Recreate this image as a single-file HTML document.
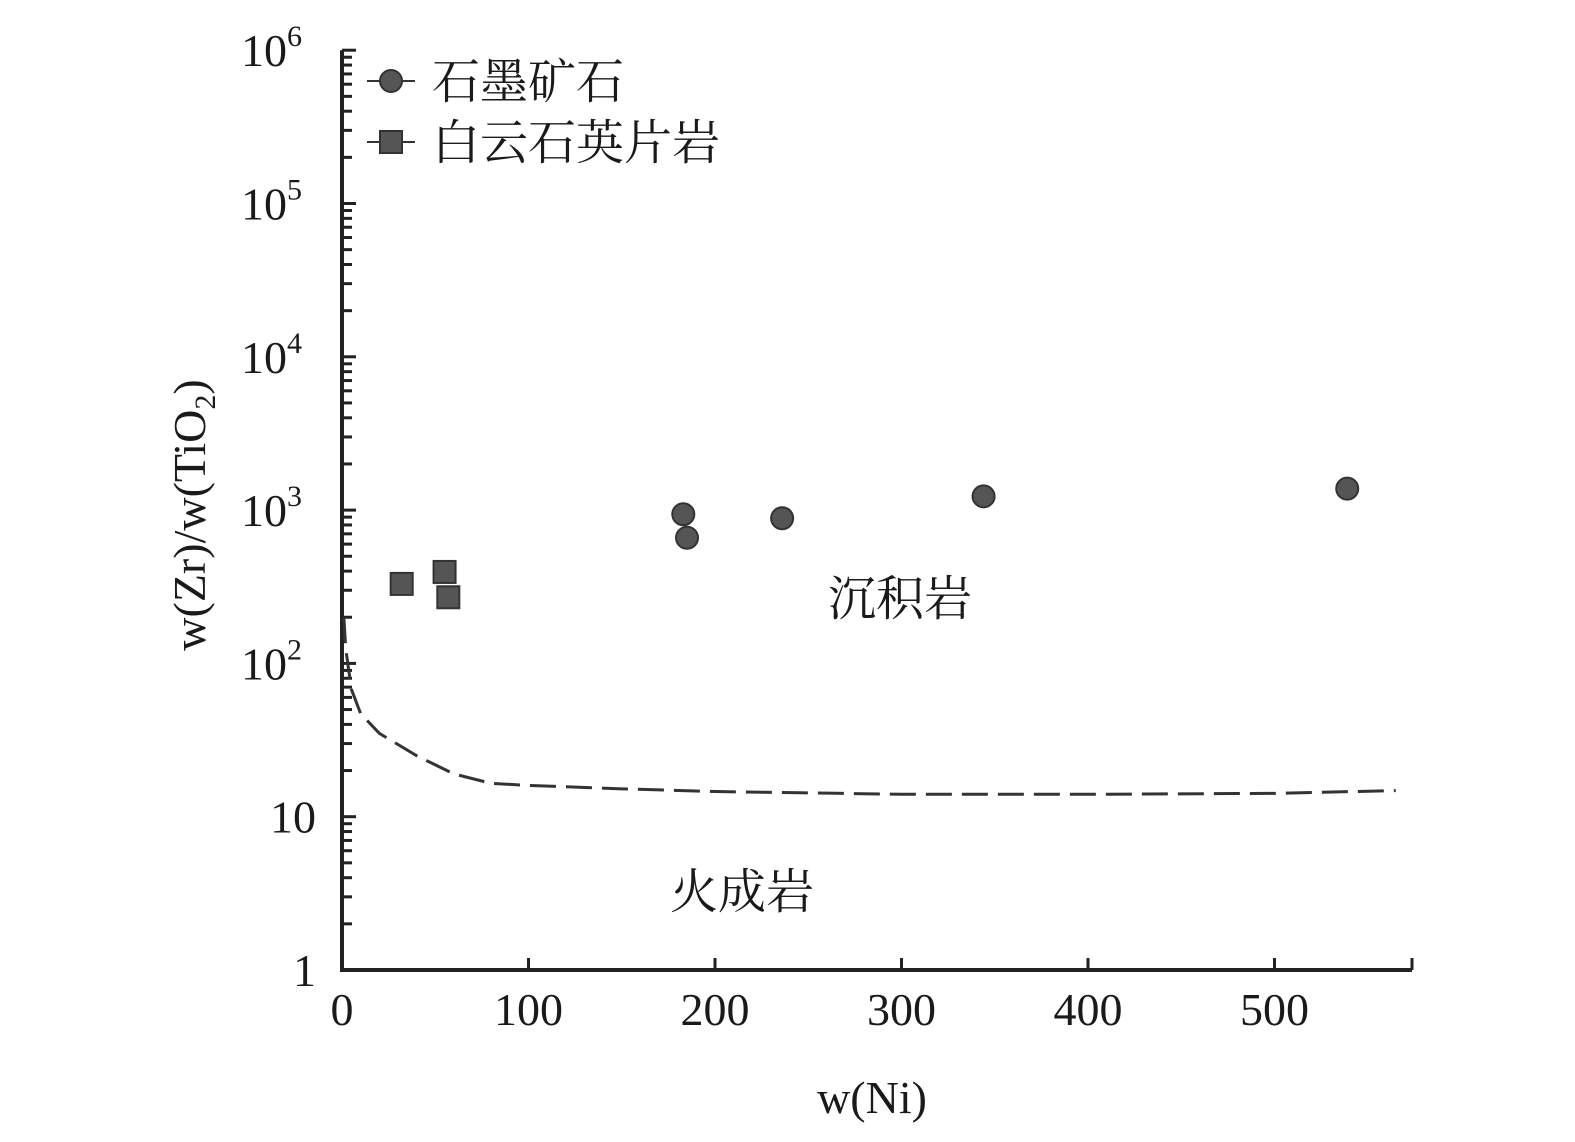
<!DOCTYPE html>
<html><head><meta charset="utf-8"><style>
html,body{margin:0;padding:0;background:#fff;}
svg{display:block;}
text{font-family:"Liberation Serif","Noto Serif CJK SC",serif;fill:#1a1a1a;}
.cjk{font-family:"Noto Serif CJK SC","Noto Sans CJK SC",serif;}
</style></head><body>
<svg id="chart" width="1575" height="1142" viewBox="0 0 1575 1142" xmlns="http://www.w3.org/2000/svg">
<g id="axes"></g>
<g id="curve"></g>
<g id="marks"></g>
<text x="872" y="1113" font-size="46" text-anchor="middle">w(Ni)</text>
<text transform="translate(205,515) rotate(-90)" font-size="46" text-anchor="middle">w(Zr)/w(TiO<tspan font-size="30" dy="10">2</tspan><tspan dy="-10">)</tspan></text>
<text class="cjk" x="900" y="615" font-size="48" text-anchor="middle">沉积岩</text>
<text class="cjk" x="742" y="908" font-size="48" text-anchor="middle">火成岩</text>
<g>
<line x1="367" y1="81" x2="415" y2="81" stroke="#333" stroke-width="2"/>
<circle cx="391" cy="81" r="11" fill="#555" stroke="#333" stroke-width="2"/>
<text class="cjk" x="432" y="98" font-size="48">石墨矿石</text>
<line x1="367" y1="142" x2="415" y2="142" stroke="#333" stroke-width="2"/>
<rect x="380" y="131" width="22" height="22" fill="#555" stroke="#333" stroke-width="2"/>
<text class="cjk" x="432" y="159" font-size="48">白云石英片岩</text>
</g>
</svg>
<script>
const xTicks=[0,100,200,300,400,500];
const yDecades=[0,1,2,3,4,5,6];
const yTickLabels=["1","10","10²","10³","10⁴","10⁵","10⁶"];
const oreNi=[183,185,236,344,539];
const oreRatio=[940,660,885,1230,1380];
const schistNi=[32,55,57];
const schistRatio=[330,395,270];
const curveNi=[1,2,5,10,20,40,60,80,100,150,200,300,400,500,565];
const curveRatio=[200,125,68,47,35,25,19,16.5,16,15.2,14.6,14,14,14.2,14.8];

const X0=342,XS=1.865,Y0=970,YD=153.3;
function sx(v){return X0+v*XS;}
function sy(v){return Y0-Math.log10(v)*YD;}
const NS="http://www.w3.org/2000/svg";
function mk(tag,attrs,parent){const e=document.createElementNS(NS,tag);for(const k in attrs)e.setAttribute(k,attrs[k]);parent.appendChild(e);return e;}
const axes=document.getElementById('axes');
let e=mk('line',{x1:X0,y1:Y0,x2:1412,y2:Y0,stroke:'#222','stroke-width':4},axes);


e=mk('line',{x1:X0,y1:Y0+2,x2:X0,y2:Y0-6*YD,stroke:'#222','stroke-width':4},axes);


mk('line',{x1:1412,y1:Y0,x2:1412,y2:Y0-12,stroke:'#222','stroke-width':3},axes);
xTicks.forEach(t=>{
  if(t>0){const l=mk('line',{x1:sx(t),y1:Y0,x2:sx(t),y2:Y0-12,stroke:'#222','stroke-width':3},axes);
  
  }
  const tx=mk('text',{x:sx(t),y:1025,'font-size':46,'text-anchor':'middle'},axes);
  tx.textContent=t;
  
  
});
yDecades.forEach((d,i)=>{
  const y=Y0-d*YD;
  const l=mk('line',{x1:X0,y1:y,x2:X0+14,y2:y,stroke:'#222','stroke-width':3},axes);
  
  
  if(d<6){for(let m=2;m<=9;m++){const yy=y-Math.log10(m)*YD;
    const ml=mk('line',{x1:X0,y1:yy,x2:X0+10,y2:yy,stroke:'#222','stroke-width':3},axes);
    
    }}
  const lab=yTickLabels[i];
  const tx=mk('text',{x:d>=2?302:318,y:y+16,'font-size':46,'text-anchor':'end'},axes);
  if(d>=2){tx.textContent='10';const ts=mk('tspan',{'font-size':30,dy:-20},tx);ts.textContent=String(d);}
  else tx.textContent=lab;
  if(d<2)tx.setAttribute('x',316);
  
  
});
const cg=document.getElementById('curve');
const pts=curveNi.map((v,i)=>sx(v)+','+sy(curveRatio[i])).join(' ');
const p=mk('polyline',{points:pts,fill:'none',stroke:'#333','stroke-width':3,'stroke-dasharray':'26,10'},cg);


const mg=document.getElementById('marks');
oreNi.forEach((v,i)=>{
  const c=mk('circle',{cx:sx(v),cy:sy(oreRatio[i]),r:11,fill:'#555',stroke:'#333','stroke-width':2},mg);
  
  
});
schistNi.forEach((v,i)=>{
  const r=mk('rect',{x:sx(v)-11,y:sy(schistRatio[i])-11,width:22,height:22,fill:'#555',stroke:'#333','stroke-width':2},mg);
  
  
});
</script>
</body></html>
